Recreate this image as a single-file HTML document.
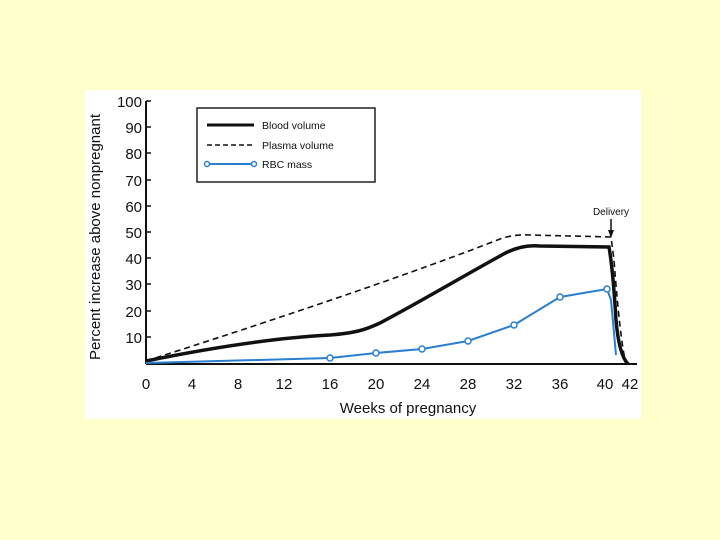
<!DOCTYPE html>
<html><head><style>
body{margin:0;width:720px;height:540px;background:#FFFFCC;overflow:hidden}
svg{position:absolute;left:0;top:0}
text{font-family:"Liberation Sans",sans-serif;fill:#111}
</style></head><body>
<svg width="720" height="540" viewBox="0 0 720 540">
<rect x="85" y="90" width="556" height="329" fill="#fff"/>
<line x1="146" y1="101" x2="146" y2="364" stroke="#111" stroke-width="2"/>
<line x1="146" y1="364" x2="637" y2="364" stroke="#111" stroke-width="2"/>
<g stroke="#111" stroke-width="1.5">
<line x1="146" y1="101" x2="151" y2="101"/>
<line x1="146" y1="127" x2="151" y2="127"/><line x1="146" y1="153" x2="151" y2="153"/>
<line x1="146" y1="180" x2="151" y2="180"/><line x1="146" y1="206" x2="151" y2="206"/>
<line x1="146" y1="232" x2="151" y2="232"/><line x1="146" y1="258" x2="151" y2="258"/>
<line x1="146" y1="284" x2="151" y2="284"/><line x1="146" y1="311" x2="151" y2="311"/>
<line x1="146" y1="337" x2="151" y2="337"/>
</g>
<g font-size="15" text-anchor="end">
<text x="142" y="107">100</text><text x="142" y="133">90</text><text x="142" y="159">80</text>
<text x="142" y="186">70</text><text x="142" y="212">60</text><text x="142" y="238">50</text>
<text x="142" y="264">40</text><text x="142" y="290">30</text><text x="142" y="317">20</text>
<text x="142" y="343">10</text>
</g>
<g font-size="15" text-anchor="middle">
<text x="146" y="389">0</text><text x="192" y="389">4</text><text x="238" y="389">8</text>
<text x="284" y="389">12</text><text x="330" y="389">16</text><text x="376" y="389">20</text>
<text x="422" y="389">24</text><text x="468" y="389">28</text><text x="514" y="389">32</text>
<text x="560" y="389">36</text><text x="605" y="389">40</text><text x="630" y="389">42</text>
</g>
<text x="408" y="413" font-size="15" text-anchor="middle">Weeks of pregnancy</text>
<text transform="translate(100,237) rotate(-90)" font-size="15" text-anchor="middle">Percent increase above nonpregnant</text>
<rect x="197" y="108" width="178" height="74" fill="#fff" stroke="#222" stroke-width="1.5"/>
<line x1="207" y1="125" x2="254" y2="125" stroke="#111" stroke-width="3"/>
<text x="262" y="129" font-size="10.5">Blood volume</text>
<line x1="207" y1="145" x2="254" y2="145" stroke="#111" stroke-width="1.5" stroke-dasharray="5,3"/>
<text x="262" y="149" font-size="10.5">Plasma volume</text>
<line x1="207" y1="164" x2="254" y2="164" stroke="#2b7fd0" stroke-width="2"/>
<circle cx="207" cy="164" r="2.5" fill="#fff" stroke="#2b7fd0" stroke-width="1.5"/>
<circle cx="254" cy="164" r="2.5" fill="#fff" stroke="#2b7fd0" stroke-width="1.5"/>
<text x="262" y="168" font-size="10.5">RBC mass</text>
<path d="M146,361 Q380,286 500,239 Q514,234 530,235 L611,237 L614,260 Q620,340 626,364" fill="none" stroke="#111" stroke-width="1.6" stroke-dasharray="6,4"/>
<path d="M146,361 C200,350 270,338 330,335 C355,333 365,330 380,323 C420,302 460,278 500,256 Q520,244 540,246 L609,247 Q613,270 616,320 Q619,355 628,364" fill="none" stroke="#111" stroke-width="3.5"/>
<path d="M146,363 L330,358 L376,353 L422,349 L468,341 L514,325 L560,297 L607,289 L611,300 L616,355" fill="none" stroke="#2b7fd0" stroke-width="2"/>
<g fill="#fff" stroke="#2b7fd0" stroke-width="1.5">
<circle cx="330" cy="358" r="3"/><circle cx="376" cy="353" r="3"/><circle cx="422" cy="349" r="3"/>
<circle cx="468" cy="341" r="3"/><circle cx="514" cy="325" r="3"/><circle cx="560" cy="297" r="3"/>
<circle cx="607" cy="289" r="3"/>
</g>
<text x="611" y="215" font-size="10" text-anchor="middle">Delivery</text>
<line x1="611" y1="219" x2="611" y2="236" stroke="#111" stroke-width="1.5"/>
<path d="M608,230 L611,238 L614,230 Z" fill="#111"/>
</svg>
</body></html>
